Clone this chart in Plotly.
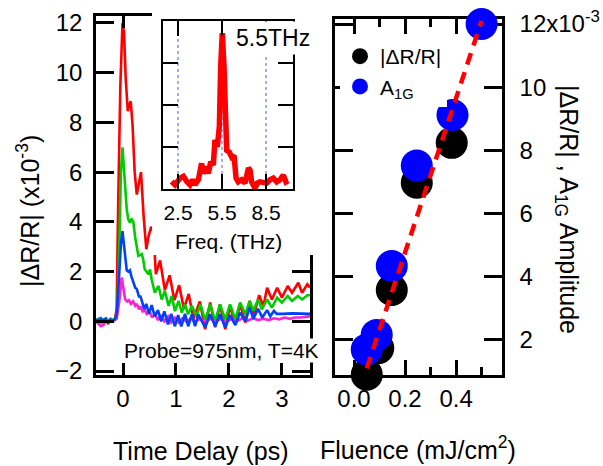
import plotly.graph_objects as go

W, H = 603, 466
FONT = "Liberation Sans, Arial, sans-serif"

# ---------------- data ----------------
# transient reflectivity |dR/R| (x1e-3) vs time delay (ps)
t_red = [-0.51, -0.46, -0.42, -0.37, -0.33, -0.28, -0.24, -0.19, -0.15, -0.12,
         -0.09, -0.05, -0.01, 0.02, 0.05, 0.09, 0.12, 0.145, 0.18, 0.22,
         0.26, 0.30, 0.34, 0.39, 0.44, 0.48, 0.53, 0.575, 0.62, 0.70,
         0.79, 0.88, 0.97, 1.06, 1.15, 1.24, 1.33, 1.45, 1.55, 1.645,
         1.74, 1.83, 1.93, 2.02, 2.12, 2.21, 2.31, 2.39, 2.47, 2.57,
         2.65, 2.72, 2.81, 2.91, 3.00, 3.11, 3.19, 3.31, 3.38, 3.48, 3.53]
v_red = [0.05, -0.08, 0.08, -0.05, 0.10, -0.10, 0.05, 0.00, 0.12, 0.50,
         4.9, 9.5, 12.0, 11.6, 9.8, 8.45, 8.7, 8.85, 7.9, 6.0,
         5.1, 5.6, 6.0, 4.2, 2.9, 3.4, 3.8, 3.6, 1.9, 2.45,
         1.25, 1.85, 0.85, 1.45, 0.5, 1.1, 0.1, 0.8, -0.32, 0.76,
         -0.24, 0.68, -0.32, 0.62, -0.12, 0.68, -0.05, 0.82, 0.25, 1.05,
         0.6, 1.35, 0.88, 1.35, 0.95, 1.42, 1.15, 1.55, 1.15, 1.49, 1.35]

t_green = [-0.51, -0.46, -0.41, -0.37, -0.32, -0.27, -0.23, -0.18, -0.14, -0.11,
           -0.07, -0.04, -0.01, 0.04, 0.07, 0.10, 0.13, 0.16, 0.195, 0.23,
           0.26, 0.29, 0.355, 0.38, 0.41, 0.48, 0.51, 0.54, 0.60, 0.67,
           0.73, 0.79, 0.86, 0.92, 0.98, 1.05, 1.11, 1.17, 1.23, 1.30,
           1.39, 1.46, 1.55, 1.645, 1.74, 1.83, 1.93, 2.02, 2.12, 2.21,
           2.31, 2.39, 2.46, 2.55, 2.62, 2.72, 2.81, 2.91, 3.00, 3.11,
           3.19, 3.30, 3.38, 3.48, 3.53]
v_green = [0.00, 0.10, -0.05, 0.08, 0.12, 0.00, 0.10, 0.05, 0.15, 0.40,
           3.0, 6.0, 7.0, 5.58, 4.5, 4.1, 3.97, 4.13, 4.0, 3.37,
           3.03, 2.63, 2.7, 2.5, 2.09, 1.89, 2.09, 1.69, 1.15, 1.42,
           0.88, 1.22, 0.62, 1.02, 0.41, 0.82, 0.35, 0.68, 0.28, 0.62,
           0.21, 0.68, 0.05, 0.68, 0.01, 0.68, 0.08, 0.68, 0.08, 0.75,
           0.28, 0.82, 0.42, 0.88, 0.48, 0.88, 0.55, 0.95, 0.75, 1.02,
           0.82, 1.02, 0.88, 1.05, 1.05]

t_blue = [-0.51, -0.47, -0.42, -0.38, -0.33, -0.29, -0.24, -0.20, -0.15, -0.12,
          -0.08, -0.04, -0.01, 0.04, 0.07, 0.10, 0.13, 0.16, 0.20, 0.23,
          0.26, 0.30, 0.33, 0.36, 0.40, 0.44, 0.49, 0.54, 0.60, 0.66,
          0.72, 0.78, 0.85, 0.91, 0.98, 1.04, 1.10, 1.17, 1.23, 1.30,
          1.36, 1.42, 1.55, 1.645, 1.74, 1.83, 1.93, 2.02, 2.12, 2.21,
          2.31, 2.39, 2.46, 2.55, 2.63, 2.72, 2.78, 2.85, 2.90, 3.00,
          3.20, 3.53]
v_blue = [0.10, 0.00, 0.12, 0.02, 0.10, -0.05, 0.08, 0.00, 0.10, 0.25,
          1.6, 3.1, 3.63, 2.6, 2.05, 2.0, 2.05, 1.8, 1.5, 1.35,
          1.3, 1.0, 1.0, 0.8, 0.5, 0.7, 0.3, 0.65, 0.2, 0.45,
          0.0, 0.4, -0.12, 0.3, -0.2, 0.25, -0.2, 0.3, -0.2, 0.28,
          -0.2, 0.28, -0.25, 0.28, -0.2, 0.28, -0.25, 0.25, -0.15, 0.35,
          0.0, 0.55, 0.1, 0.5, 0.15, 0.45, 0.2, 0.42, 0.3, 0.3,
          0.32, 0.3]

t_mag = [-0.51, -0.46, -0.42, -0.37, -0.33, -0.28, -0.24, -0.19, -0.15, -0.12,
         -0.07, -0.025, 0.01, 0.04, 0.08, 0.11, 0.15, 0.19, 0.23, 0.26,
         0.30, 0.33, 0.37, 0.41, 0.45, 0.50, 0.55, 0.60, 0.66, 0.72,
         0.78, 0.85, 0.91, 0.98, 1.05, 1.12, 1.20, 1.28, 1.36, 1.45,
         1.55, 1.65, 1.75, 1.85, 1.95, 2.05, 2.15, 2.25, 2.35, 2.45,
         2.55, 2.65, 2.75, 2.85, 2.95, 3.05, 3.15, 3.25, 3.35, 3.45, 3.53]
v_mag = [0.00, -0.10, -0.20, -0.15, 0.00, -0.05, 0.05, 0.00, 0.05, 0.10,
         0.80, 1.76, 1.3, 0.885, 0.8, 0.85, 0.7, 0.8, 0.62, 0.7,
         0.48, 0.6, 0.4, 0.45, 0.3, 0.4, 0.15, 0.3, 0.05, 0.25,
         0.0, 0.2, -0.05, 0.15, -0.05, 0.12, -0.02, 0.12, -0.02, 0.1,
         0.0, 0.1, 0.0, 0.1, -0.02, 0.1, 0.0, 0.12, 0.02, 0.12,
         0.05, 0.1, 0.05, 0.12, 0.08, 0.15, 0.1, 0.15, 0.15, 0.18, 0.2]

# inset: Fourier spectrum (arb. units) vs frequency (THz)
freq = [2.07, 2.3, 2.64, 2.87, 3.1, 3.32, 3.5, 3.66, 3.89, 4.11,
        4.23, 4.41, 4.57, 4.73, 4.91, 5.02, 5.18, 5.32, 5.41, 5.52,
        5.64, 5.73, 5.82, 6.0, 6.16, 6.32, 6.46, 6.61, 6.84, 7.07,
        7.3, 7.41, 7.52, 7.75, 7.91, 8.09, 8.32, 8.55, 8.77, 9.0,
        9.23, 9.45, 9.68, 9.86, 10.0]
amp = [0.18, 0.10, 0.26, 0.30, 0.18, 0.10, 0.22, 0.10, 0.22, 0.61,
       0.37, 0.53, 0.37, 0.65, 0.57, 1.17, 1.0, 1.48, 2.9, 3.71,
       2.9, 1.48, 0.92, 0.88, 0.76, 0.8, 0.26, 0.17, 0.22, 0.14,
       0.5, 0.45, 0.17, 0.02, 0.14, 0.17, 0.17, 0.14, 0.22, 0.26,
       0.17, 0.22, 0.33, 0.17, 0.2]
inset_ticks = [2.5, 5.5, 8.5]

# right panel: amplitudes (x1e-3) vs fluence (mJ/cm^2)
fluence_drr = [0.05, 0.095, 0.148, 0.246, 0.383, 0.50]
drr = [0.90, 1.74, 3.58, 6.98, 8.24, 12.23]
fluence_a1g = [0.05, 0.089, 0.148, 0.246, 0.386, 0.50]
a1g = [1.70, 2.16, 4.34, 7.52, 9.12, 12.0]
fit_fluence = [0.05, 0.50]
fit_value = [1.1, 12.1]
right_ticks = [2, 4, 6, 8, 10, 12]
right_ticktext = ["2", "4", "6", "8", "10", "12x10<sup>-3</sup>"]


# ---------------- helpers (pixel -> paper) ----------------
def px(p):
    return p / W


def py(p):
    return 1 - p / H


fig = go.Figure()

for tt, vv, col in [(t_red, v_red, "#ff0000"), (t_green, v_green, "#00cc00"),
                    (t_mag, v_mag, "#ff20d0"), (t_blue, v_blue, "#0040ff")]:
    fig.add_trace(go.Scatter(x=tt, y=vv, mode="lines", line=dict(color=col, width=2.6),
                             xaxis="x", yaxis="y", showlegend=False, hoverinfo="skip"))

# right panel
fig.add_trace(go.Scatter(x=fluence_drr, y=drr, mode="markers", name="|ΔR/R|",
                         marker=dict(color="black", size=32), cliponaxis=False,
                         xaxis="x2", yaxis="y2"))
fig.add_trace(go.Scatter(x=fluence_a1g, y=a1g, mode="markers", name="A<sub>1G</sub>",
                         marker=dict(color="#0000ff", size=32), cliponaxis=False,
                         xaxis="x2", yaxis="y2"))
fig.add_trace(go.Scatter(x=fit_fluence, y=fit_value, mode="lines", showlegend=False,
                         line=dict(color="#ff0000", width=4.5, dash="12px,8px"),
                         xaxis="x2", yaxis="y2"))

# cover (white box behind the inset)
fig.add_trace(go.Scatter(x=[], y=[], xaxis="x3", yaxis="y3", showlegend=False))

# inset spectrum
fig.add_trace(go.Scatter(x=freq, y=amp, mode="lines", line=dict(color="#ff0000", width=5.5),
                         xaxis="x4", yaxis="y4", showlegend=False))

axis_common = dict(showline=True, linecolor="black", linewidth=2.5, mirror="ticks",
                   ticks="inside", tickcolor="black", tickwidth=2.5, showgrid=False,
                   zeroline=False, tickfont=dict(family=FONT, size=24, color="black"))

hidden = dict(showline=False, showticklabels=False, ticks="", showgrid=False,
              zeroline=False, range=[0, 1], fixedrange=True)

fig.update_layout(
    width=W, height=H, template="none",
    margin=dict(l=0, r=0, t=0, b=0),
    paper_bgcolor="white", plot_bgcolor="white",
    font=dict(family=FONT, color="black"),
    xaxis=dict(axis_common, domain=[px(96), px(310)], range=[-0.51, 3.53],
               tickvals=[0, 1, 2, 3], ticklen=12, anchor="y", ticklabelstandoff=0),
    yaxis=dict(axis_common, domain=[py(375), py(16)], range=[-2.16, 12.28],
               tickvals=[-2, 0, 2, 4, 6, 8, 10, 12], ticklen=18, anchor="x",
               ticklabelstandoff=6),
    xaxis2=dict(axis_common, domain=[px(335), px(502)], range=[-0.0745, 0.58],
                tick0=0, dtick=0.2, tickformat=".1f", ticklen=15, anchor="y2",
                layer="below traces", ticklabelstandoff=0,
                minor=dict(ticks="inside", ticklen=8, tickwidth=2.5, tickcolor="black",
                           dtick=0.1, tick0=0)),
    yaxis2=dict(axis_common, domain=[py(375), py(19)], range=[0.89, 12.16],
                side="right", tickvals=right_ticks, ticktext=right_ticktext,
                ticklen=18, anchor="x2", layer="below traces", ticklabelstandoff=10),
    xaxis3=dict(hidden, domain=[px(152), px(320)], anchor="y3"),
    yaxis3=dict(hidden, domain=[py(255), 1.0], anchor="x3"),
    xaxis4=dict(axis_common, domain=[px(163), px(293)], range=[1.48, 10.34],
                tickvals=inset_ticks, ticktext=["2.5", "5.5", "8.5"], ticklen=15,
                linewidth=2, tickwidth=2, anchor="y4", ticklabelstandoff=4,
                tickfont=dict(family=FONT, size=21, color="black"),
                showgrid=True, gridcolor="#a8a8ff", gridwidth=1.5, griddash="dot"),
    yaxis4=dict(axis_common, domain=[py(189), py(21)], range=[0, 4],
                tickvals=[1, 2, 3], showticklabels=False, ticklen=15,
                linewidth=2, tickwidth=2, anchor="x4"),
    legend=dict(x=px(340), y=py(36), xanchor="left", yanchor="top",
                bgcolor="white", font=dict(family=FONT, size=21, color="black"),
                itemsizing="trace", tracegroupgap=0),
    showlegend=True,
)

ann = [
    dict(text="5.5THz", x=px(272.5), y=py(38.5), font=dict(size=23), bgcolor="white",
         borderpad=3),
    dict(text="Probe=975nm, T=4K", x=px(221.5), y=py(350), font=dict(size=21),
         bgcolor="white", borderpad=0),
    dict(text="Freq. (THz)", x=px(228.5), y=py(241.5), font=dict(size=21)),
    dict(text="Time Delay (ps)", x=px(201), y=py(451), font=dict(size=25)),
    dict(text="Fluence (mJ/cm<sup>2</sup>)", x=px(418), y=py(448), font=dict(size=25)),
    dict(text="|ΔR/R| (x10<sup>-3</sup>)", x=px(28), y=py(211), font=dict(size=25),
         textangle=-90),
    dict(text="|ΔR/R| , A<sub>1G</sub> Amplitude", x=px(567), y=py(209),
         font=dict(size=25), textangle=90),
]
for a in ann:
    a.update(xref="paper", yref="paper", showarrow=False, xanchor="center",
             yanchor="middle")
    a["font"] = dict(family=FONT, color="black", **a["font"])
fig.update_layout(annotations=ann)

fig.write_html("out.html")
